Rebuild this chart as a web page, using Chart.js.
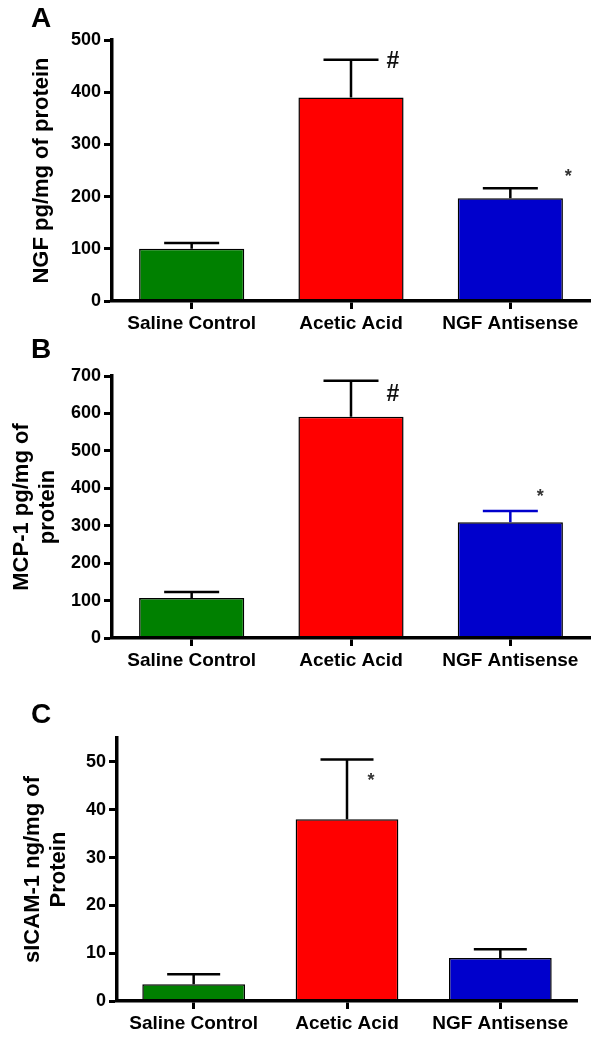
<!DOCTYPE html>
<html><head><meta charset="utf-8">
<script src="https://cdn.jsdelivr.net/npm/chart.js@4.4.1/dist/chart.umd.min.js"></script>
<style>
html,body{margin:0;padding:0;background:#fff;}
#wrap{position:relative;width:613px;height:1050px;overflow:hidden;background:#fff}
canvas{position:absolute;left:0}
</style></head><body>
<div id="wrap">
<canvas id="cA" width="613" height="335" style="top:0px"></canvas>
<canvas id="cB" width="613" height="340" style="top:335px"></canvas>
<canvas id="cC" width="613" height="375" style="top:675px"></canvas>
</div>
<script>
// ---- data ----
const categories = ['Saline Control', 'Acetic Acid', 'NGF Antisense'];
const barColors = ['#008000', '#FF0000', '#0000CC'];

// Panel A: NGF
const ngfMeans = [100, 390, 197];
const ngfErrors = [11, 72, 19];
const ngfTicks = [0, 100, 200, 300, 400, 500];
const ngfMarks = ['', '#', '*'];
const ngfMarkValues = [null, 462, 247];

// Panel B: MCP-1
const mcpMeans = [107, 591, 309];
const mcpErrors = [16, 96, 30];
const mcpTicks = [0, 100, 200, 300, 400, 500, 600, 700];
const mcpMarks = ['', '#', '*'];
const mcpMarkValues = [null, 657, 388];

// Panel C: sICAM-1
const icamMeans = [3.5, 38, 9];
const icamErrors = [2.1, 12.5, 1.8];
const icamTicks = [0, 10, 20, 30, 40, 50];
const icamMarks = ['', '*', ''];
const icamMarkValues = [null, 47, null];

const FONT = "'Liberation Sans', Arial, Helvetica, sans-serif";

const overlay = {
  id: 'overlay',
  afterDatasetsDraw(chart, args, o) {
    const ctx = chart.ctx;
    const ds = chart.data.datasets[0];
    const meta = chart.getDatasetMeta(0);
    const y = chart.scales.y;
    ctx.save();
    meta.data.forEach((bar, i) => {
      const base = y.getPixelForValue(ds.data[i]);
      const top = y.getPixelForValue(ds.data[i] + ds.errorBars[i]);
      ctx.strokeStyle = o.errorColors[i];
      ctx.lineWidth = 2.5;
      ctx.lineCap = 'butt';
      ctx.beginPath();
      ctx.moveTo(bar.x, base);
      ctx.lineTo(bar.x, top);
      ctx.moveTo(bar.x - o.capHalf, top);
      ctx.lineTo(bar.x + o.capHalf, top);
      ctx.stroke();
      const mark = ds.marks[i];
      if (mark) {
        const my = y.getPixelForValue(ds.markValues[i]);
        const isHash = mark === '#';
        ctx.font = 'bold ' + (isHash ? 23 : 18) + 'px ' + FONT;
        ctx.fillStyle = isHash ? '#111' : '#333';
        ctx.textAlign = 'center';
        ctx.textBaseline = 'alphabetic';
        const m = ctx.measureText(mark);
        const yy = my + (m.actualBoundingBoxAscent - m.actualBoundingBoxDescent) / 2;
        ctx.fillText(mark, bar.x + o.markOffsets[i], yy);
      }
    });
    // panel letter
    ctx.font = 'bold 28px ' + FONT;
    ctx.fillStyle = '#000';
    ctx.textAlign = 'left';
    ctx.textBaseline = 'middle';
    ctx.fillText(o.letter, 31, o.letterY);
    ctx.restore();
  }
};

function makeChart(id, cfg) {
  return new Chart(document.getElementById(id), {
    type: 'bar',
    data: {
      labels: categories,
      datasets: [{
        data: cfg.means,
        errorBars: cfg.errors,
        marks: cfg.marks,
        markValues: cfg.markValues,
        backgroundColor: barColors,
        borderColor: '#000',
        borderWidth: 1.5,
        borderSkipped: 'start',
        barPercentage: cfg.barPct,
        categoryPercentage: 1
      }]
    },
    options: {
      responsive: false,
      animation: false,
      devicePixelRatio: 1,
      layout: { padding: { top: cfg.padTop, right: cfg.padRight, left: 0, bottom: 0 } },
      plugins: {
        legend: { display: false },
        tooltip: { enabled: false },
        overlay: cfg.overlay
      },
      scales: {
        x: {
          offset: true,
          grid: { offset: false, drawOnChartArea: false, drawTicks: true, tickLength: 8, tickWidth: 3, color: '#000' },
          border: { display: true, color: '#000', width: 3.5, z: 1 },
          ticks: { color: '#000', padding: 3, font: { family: FONT, size: 19, weight: 'bold' }, maxRotation: 0, autoSkip: false },
          afterFit: s => { s.height = cfg.xHeight; }
        },
        y: {
          min: 0,
          max: cfg.max,
          afterBuildTicks: s => { s.ticks = cfg.ticks.map(v => ({ value: v })); },
          grid: { drawOnChartArea: false, drawTicks: true, tickLength: 8, tickWidth: 3, color: '#000' },
          border: { display: true, color: '#000', width: 3.5, z: 1 },
          ticks: { color: '#000', padding: 3, font: { family: FONT, size: 18, weight: 'bold' } },
          title: { display: true, text: cfg.title, color: '#000', font: { family: FONT, size: 22, weight: 'bold' }, padding: { top: cfg.titlePad, bottom: 0 } },
          afterFit: s => { s.width = cfg.yWidth; }
        }
      }
    },
    plugins: [overlay]
  });
}

makeChart('cA', {
  means: ngfMeans, errors: ngfErrors, marks: ngfMarks, markValues: ngfMarkValues,
  ticks: ngfTicks, max: 500, title: 'NGF pg/mg of protein', titlePad: 28.8,
  padTop: 40, padRight: 23, yWidth: 112, xHeight: 34, barPct: 0.66,
  overlay: { errorColors: ['#000', '#000', '#000'], capHalf: 27.5, markOffsets: [0, 42, 58], letter: 'A', letterY: 19 }
});

makeChart('cB', {
  means: mcpMeans, errors: mcpErrors, marks: mcpMarks, markValues: mcpMarkValues,
  ticks: mcpTicks, max: 700, title: ['MCP-1 pg/mg of', 'protein'], titlePad: 8.8,
  padTop: 41, padRight: 23, yWidth: 112, xHeight: 37, barPct: 0.66,
  overlay: { errorColors: ['#000', '#000', '#0000CC'], capHalf: 27.5, markOffsets: [0, 42, 30], letter: 'B', letterY: 15 }
});

makeChart('cC', {
  means: icamMeans, errors: icamErrors, marks: icamMarks, markValues: icamMarkValues,
  ticks: icamTicks, max: 55, title: ['sICAM-1 ng/mg of', 'Protein'], titlePad: 19.8,
  padTop: 63, padRight: 36, yWidth: 117, xHeight: 49, barPct: 0.67,
  overlay: { errorColors: ['#000', '#000', '#000'], capHalf: 26.5, markOffsets: [0, 24, 0], letter: 'C', letterY: 40 }
});
</script>
</body></html>
